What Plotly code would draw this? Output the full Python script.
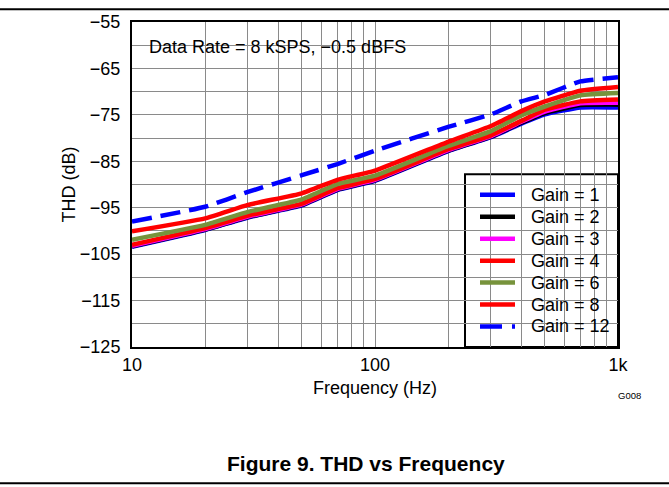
import plotly.graph_objects as go

# ---- data ----
freq_hz = [10, 20, 30, 50, 70, 100, 200, 300, 400, 500, 700, 1000]

thd_gain1 = [-103.4, -99.8, -97.1, -94.5, -91.2, -89.2, -82.8, -79.8, -76.9, -74.9, -73.4, -73.4]
thd_gain2 = [-103.3, -99.7, -97.0, -94.4, -91.1, -89.1, -82.7, -79.7, -76.7, -74.6, -72.9, -72.8]
thd_gain3 = [-103.2, -99.6, -96.9, -94.3, -91.0, -89.0, -82.6, -79.6, -76.5, -74.3, -72.5, -72.4]
thd_gain4 = [-103.0, -99.4, -96.7, -94.1, -90.8, -88.8, -82.4, -79.4, -76.3, -73.9, -72.1, -71.7]
thd_gain6 = [-101.9, -98.7, -95.9, -93.2, -89.9, -88.1, -81.7, -78.5, -75.1, -73.2, -70.8, -70.3]
thd_gain8 = [-100.1, -97.3, -94.4, -91.9, -89.0, -87.0, -80.8, -77.4, -74.2, -72.1, -69.8, -69.0]
thd_gain12 = [-98.0, -94.8, -91.6, -88.0, -85.6, -82.7, -77.6, -74.9, -72.1, -70.7, -67.8, -66.9]

series_names = ["Gain = 1", "Gain = 2", "Gain = 3", "Gain = 4", "Gain = 6", "Gain = 8", "Gain = 12"]
series_values = [thd_gain1, thd_gain2, thd_gain3, thd_gain4, thd_gain6, thd_gain8, thd_gain12]
series_colors = ["#0000FF", "#000000", "#FF00FF", "#FF0000", "#77933C", "#FF0000", "#0000FF"]
series_dash = ["solid", "solid", "solid", "solid", "solid", "solid", "20px,9px"]

y_ticks = list(range(-125, -50, 5))
y_ticktext = [("\u2212" + str(-v)) if (v + 55) % 10 == 0 else "" for v in y_ticks]
x_ticks = [10, 20, 30, 40, 50, 60, 70, 80, 90, 100, 200, 300, 400, 500, 600, 700, 800, 900, 1000]
x_tickmap = {10: "10", 100: "100", 1000: "1k"}
x_ticktext = [x_tickmap.get(v, "") for v in x_ticks]

FONT = "Liberation Sans, Arial, Helvetica, sans-serif"

# plot-area geometry in pixels (for paper-coordinate helpers)
W, H = 669, 487
L, R, T, B = 132, 618, 18, 347


def px(x):
    return (x - L) / (R - L)


def py(y):
    return (B - y) / (B - T)


fig = go.Figure()
for name, vals, col, dash in zip(series_names, series_values, series_colors, series_dash):
    fig.add_trace(go.Scatter(
        x=freq_hz, y=vals, mode="lines", name=name,
        line=dict(color=col, width=4.5, dash=dash, shape="spline", smoothing=0.4),
        showlegend=False,
    ))

shapes = []
annotations = []

# white box behind the condition text (covers grid)
shapes.append(dict(type="rect", xref="paper", yref="paper",
                   x0=px(L), x1=px(420), y0=py(84), y1=py(T),
                   fillcolor="white", line=dict(width=0), layer="between"))
annotations.append(dict(text="Data Rate = 8 kSPS, \u22120.5 dBFS", xref="paper", yref="paper",
                        x=px(147), y=py(43), xanchor="left", yanchor="middle", showarrow=False,
                        font=dict(family=FONT, size=18, color="black")))

# legend box (drawn manually to match the compact entry spacing)
shapes.append(dict(type="rect", xref="paper", yref="paper",
                   x0=px(465), x1=px(R), y0=py(B), y1=py(172),
                   fillcolor="white", line=dict(color="black", width=2), layer="between"))
for i, (name, col, dash) in enumerate(zip(series_names, series_colors, series_dash)):
    yc = 193 + i * 22.2
    shapes.append(dict(type="line", xref="paper", yref="paper",
                       x0=px(480), x1=px(515), y0=py(yc), y1=py(yc),
                       line=dict(color=col, width=4.5, dash="22px,10px" if dash != "solid" else "solid"),
                       layer="above"))
    annotations.append(dict(text=name, xref="paper", yref="paper", x=px(529), y=py(yc),
                            xanchor="left", yanchor="middle", showarrow=False,
                            font=dict(family=FONT, size=18, color="black")))

# page rules
shapes.append(dict(type="line", xref="paper", yref="paper", x0=px(0), x1=px(W), y0=py(5), y1=py(5),
                   line=dict(color="black", width=2)))
shapes.append(dict(type="line", xref="paper", yref="paper", x0=px(0), x1=px(W), y0=py(485), y1=py(485),
                   line=dict(color="black", width=2)))

annotations.append(dict(text="THD (dB)", xref="paper", yref="paper", x=px(68), y=0.5,
                        textangle=-90, showarrow=False, xanchor="center", yanchor="middle",
                        font=dict(family=FONT, size=18, color="black")))
annotations.append(dict(text="Frequency (Hz)", xref="paper", yref="paper", x=px(375), y=py(389),
                        showarrow=False, xanchor="center", yanchor="middle",
                        font=dict(family=FONT, size=18, color="black")))
annotations.append(dict(text="G008", xref="paper", yref="paper", x=px(629), y=py(396),
                        showarrow=False, xanchor="center", yanchor="middle",
                        font=dict(family=FONT, size=9.5, color="black")))
annotations.append(dict(text="<b>Figure 9. THD vs Frequency</b>", xref="paper", yref="paper",
                        x=px(366), y=py(465), showarrow=False, xanchor="center", yanchor="middle",
                        font=dict(family=FONT, size=21, color="black")))

fig.update_layout(
    width=W, height=H,
    margin=dict(l=L, r=W - R, t=T, b=H - B, pad=0),
    paper_bgcolor="white", plot_bgcolor="white",
    showlegend=False,
    font=dict(family=FONT, size=18, color="black"),
    shapes=shapes, annotations=annotations,
    xaxis=dict(type="log", range=[1, 3], tickmode="array", tickvals=x_ticks, ticktext=x_ticktext,
               showgrid=True, gridcolor="#8a8a8a", gridwidth=1, zeroline=False,
               showline=True, linecolor="black", linewidth=2, mirror=True,
               ticks="", ticklabelstandoff=0, tickfont=dict(family=FONT, size=18)),
    yaxis=dict(range=[-125, -55], tickmode="array", tickvals=y_ticks, ticktext=y_ticktext,
               showgrid=True, gridcolor="#8a8a8a", gridwidth=1, zeroline=False,
               showline=True, linecolor="black", linewidth=2, mirror=True,
               ticks="", ticklabelstandoff=6, tickfont=dict(family=FONT, size=18)),
)

fig.write_html("out.html", config={"displayModeBar": False},
               post_script="document.body.style.margin='0px';")
